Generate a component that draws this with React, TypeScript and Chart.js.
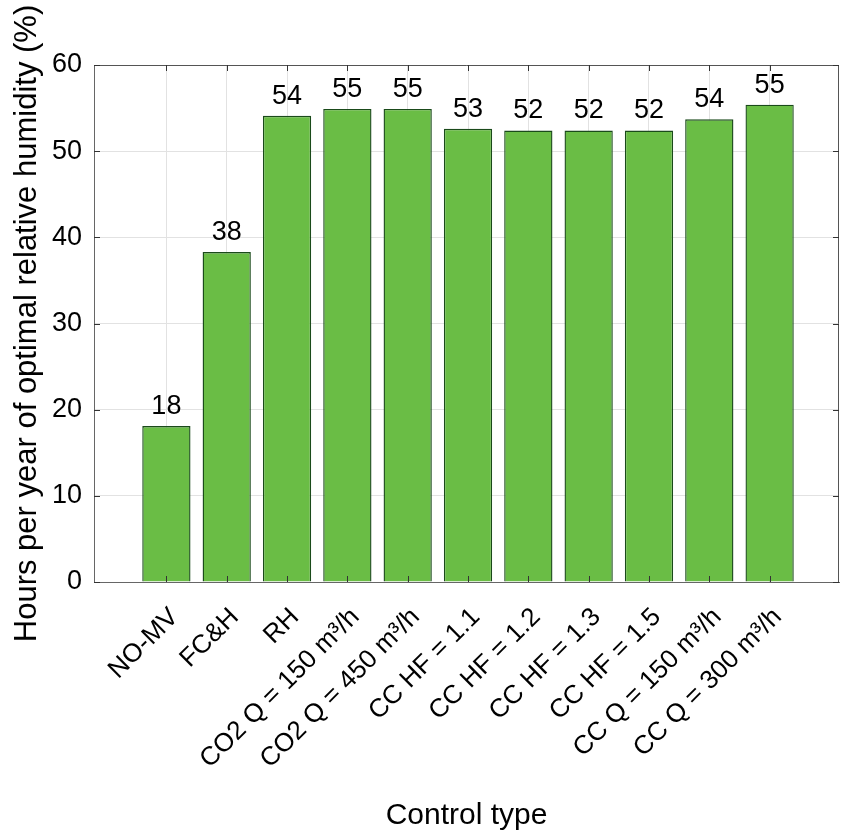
import React, { useEffect, useRef } from 'react';
import { Chart, registerables } from 'chart.js';

Chart.register(...registerables);

const categories = [
  'NO-MV',
  'FC&H',
  'RH',
  'CO2 Q = 150 m³/h',
  'CO2 Q = 450 m³/h',
  'CC HF = 1.1',
  'CC HF = 1.2',
  'CC HF = 1.3',
  'CC HF = 1.5',
  'CC Q = 150 m³/h',
  'CC Q = 300 m³/h',
];
const hours = [18.1, 38.3, 54.1, 54.9, 54.9, 52.6, 52.4, 52.4, 52.4, 53.7, 55.4];
const barLabels = ['18', '38', '54', '55', '55', '53', '52', '52', '52', '54', '55'];
const yTicks = [0, 10, 20, 30, 40, 50, 60];

const FONT = '"Liberation Sans", Arial, Helvetica, sans-serif';

const overlay = {
  id: 'overlay',
  afterDatasetsDraw(chart: any) {
    const { ctx, chartArea } = chart;
    const { left, right, top, bottom } = chartArea;
    const xs = chart.scales.x;
    const ys = chart.scales.y;
    ctx.save();
    // frame (top and right sides)
    ctx.strokeStyle = '#555555';
    ctx.lineWidth = 1;
    ctx.beginPath();
    ctx.moveTo(left, top + 0.5);
    ctx.lineTo(right - 0.5, top + 0.5);
    ctx.lineTo(right - 0.5, bottom);
    ctx.stroke();
    // inward tick marks
    ctx.strokeStyle = '#333333';
    const tl = 6;
    ctx.beginPath();
    yTicks.forEach((v) => {
      const py = Math.round(ys.getPixelForValue(v)) + 0.5;
      ctx.moveTo(left, py);
      ctx.lineTo(left + tl, py);
      ctx.moveTo(right, py);
      ctx.lineTo(right - tl, py);
    });
    categories.forEach((_, i) => {
      const px = Math.round(xs.getPixelForValue(i)) + 0.5;
      ctx.moveTo(px, top);
      ctx.lineTo(px, top + tl);
      ctx.moveTo(px, bottom);
      ctx.lineTo(px, bottom - tl);
    });
    ctx.stroke();
    // value labels
    const meta = chart.getDatasetMeta(0);
    ctx.fillStyle = '#000000';
    ctx.font = `27px ${FONT}`;
    ctx.textAlign = 'center';
    ctx.textBaseline = 'alphabetic';
    meta.data.forEach((bar: any, i: number) => {
      ctx.fillText(barLabels[i], bar.x, bar.y - 12);
    });
    ctx.restore();
  },
};

export default function App() {
  const canvasRef = useRef<HTMLCanvasElement | null>(null);

  useEffect(() => {
    if (!canvasRef.current) return;
    const chart = new Chart(canvasRef.current, {
      type: 'bar',
      data: {
        datasets: [
          {
            data: categories.map((_, i) => ({ x: i, y: hours[i] })),
            backgroundColor: 'rgb(106,189,69)',
            borderColor: '#1a4a1a',
            borderWidth: 1.4,
            barPercentage: 0.8,
            categoryPercentage: 1,
          },
        ],
      },
      options: {
        animation: false,
        responsive: false,
        devicePixelRatio: 1,
        layout: { padding: { top: 65, right: 17, left: 0, bottom: 0 } },
        plugins: {
          legend: { display: false },
          tooltip: { enabled: false },
        },
        scales: {
          x: {
            type: 'linear',
            min: -1.2,
            max: 11.15,
            offset: false,
            grid: { offset: false, color: '#e2e2e2', drawTicks: false },
            border: { color: '#666666', width: 1 },
            afterBuildTicks: (s: any) => {
              s.ticks = categories.map((_, i) => ({ value: i }));
            },
            afterFit: (s: any) => {
              s.height = 256;
            },
            ticks: {
              autoSkip: false,
              maxRotation: 45,
              minRotation: 45,
              padding: 20,
              labelOffset: 8,
              color: '#000000',
              font: { family: FONT, size: 26 },
              callback: (v: any) => categories[Math.round(Number(v))] ?? '',
            },
            title: {
              display: true,
              text: 'Control type',
              color: '#000000',
              font: { family: FONT, size: 30 },
              padding: { top: 0, bottom: 4 },
            },
          },
          y: {
            min: 0,
            max: 60,
            grid: { color: '#e2e2e2', drawTicks: false },
            border: { color: '#666666', width: 1 },
            afterBuildTicks: (s: any) => {
              s.ticks = yTicks.map((v) => ({ value: v }));
            },
            afterFit: (s: any) => {
              s.width = 94;
            },
            ticks: {
              padding: 12,
              color: '#000000',
              font: { family: FONT, size: 27 },
            },
            title: {
              display: true,
              text: 'Hours per year of optimal relative humidity (%)',
              color: '#000000',
              font: { family: FONT, size: 31 },
              padding: { top: 9, bottom: 0 },
            },
          },
        },
      } as any,
      plugins: [overlay],
    });
    return () => chart.destroy();
  }, []);

  return (
    <div style={{ position: 'absolute', left: 0, top: 0, width: 856, height: 838 }}>
      <canvas ref={canvasRef} width={856} height={838} style={{ display: 'block' }} />
    </div>
  );
}
